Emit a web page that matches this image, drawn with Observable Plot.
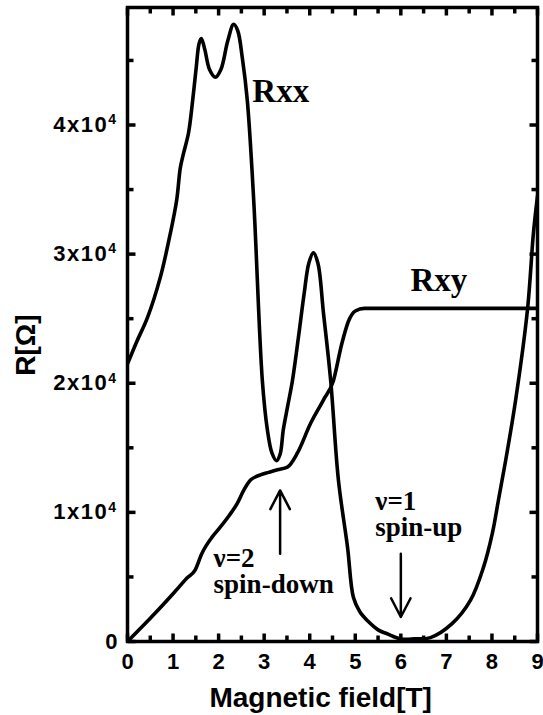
<!DOCTYPE html>
<html><head><meta charset="utf-8">
<script src="https://cdn.jsdelivr.net/npm/d3@7"></script>
<script src="https://cdn.jsdelivr.net/npm/@observablehq/plot@0.6"></script>
<style>body{margin:0;background:#fff} svg{display:block}</style>
</head><body><div id="chart"></div><script>
// Rxx: magnetic field [T] and resistance [Ω]
const rxxB = [0,0.2,0.44,0.72,0.94,1.08,1.16,1.23,1.34,1.43,1.51,1.57,1.62,1.7,1.8,1.93,2.05,2.2,2.33,2.42,2.52,2.63,2.77,2.96,3.07,3.17,3.27,3.35,3.42,3.52,3.62,3.75,3.88,3.98,4.08,4.18,4.3,4.46,4.63,4.83,4.96,5.1,5.27,5.5,5.7,6.0,6.3,6.65,7.13,7.53,7.81,8.01,8.14,8.3,8.52,8.78,8.91,9.0];
const rxxR = [21500,23200,25100,28200,31600,34200,36700,37800,39400,41900,44500,46300,46700,45800,44300,43700,44300,46500,47800,47300,45200,41900,34200,20200,16400,14600,14000,14500,16400,18300,20200,23500,27000,29300,30100,29300,25500,20200,12500,7300,3400,2300,1600,900,600,200,200,300,1400,3200,5700,8400,10900,14000,18700,25700,31600,34500];
// Rxy
const rxyB = [0,0.5,1.0,1.2,1.3,1.48,1.63,1.86,2.0,2.24,2.41,2.55,2.7,2.92,3.1,3.29,3.51,3.73,4.02,4.3,4.52,4.7,4.85,5.0,5.2,6.0,9.0];
const rxyR = [0,1800,3700,4500,4900,5500,6800,8100,8700,9800,10700,11700,12500,12900,13100,13300,13500,14600,16900,18700,20200,23000,24800,25600,25800,25800,25800];
// tick values
const xMajor = [0,1,2,3,4,5,6,7,8,9];
const xMinor = [0.5,1.5,2.5,3.5,4.5,5.5,6.5,7.5,8.5];
const yMajor = [0,10000,20000,30000,40000];
const yMinor = [5000,15000,25000,35000,45000];
// annotations
const curveLabels = [
  {B:2.74, R:42600, text:"Rxx"},
  {B:6.21, R:28000, text:"Rxy"}
];
const levelLabels = [
  {B:1.89, R:5400, text:"ν=2\nspin-down"},
  {B:5.44, R:9800, text:"ν=1\nspin-up"}
];
const arrows = [
  {B:3.35, from:6800, to:11700},
  {B:6.0, from:6800, to:1900}
];
const xTitle = [{B:4.24, R:-4340, text:"Magnetic field[T]"}];
const yTitle = [{B:-2.217, R:22950, text:"R[Ω]"}];

const rxx = rxxB.map((b,i)=>({B:b, R:rxxR[i]}));
const rxy = rxyB.map((b,i)=>({B:b, R:rxyR[i]}));

const W=543, H=715, mL=127, mR=6, mT=7, mB=74;
const xMax = 9, yMax = 49100;
const fw = W-mL-mR, fh = H-mT-mB;
const serif = "'Liberation Serif', 'Times New Roman', serif";

// inward tick segments: tick length in pixels converted to data units
const tickSegs = [];
for (const [vals, px] of [[xMajor,8],[xMinor,6]]) {
  const d = px/fh*yMax;
  for (const v of vals) {
    tickSegs.push({x1:v, x2:v, y1:0, y2:d});
    tickSegs.push({x1:v, x2:v, y1:yMax, y2:yMax-d});
  }
}
for (const [vals, px] of [[yMajor,8],[yMinor,6]]) {
  const d = px/fw*xMax;
  for (const v of vals) {
    tickSegs.push({x1:0, x2:d, y1:v, y2:v});
    tickSegs.push({x1:xMax, x2:xMax-d, y1:v, y2:v});
  }
}

const plot = Plot.plot({
  width: W, height: H,
  marginLeft: mL, marginRight: mR, marginTop: mT, marginBottom: mB,
  style: {background:"#fff", color:"#000", fontFamily:"'Liberation Sans', Arial, sans-serif", overflow:"visible"},
  x: {domain:[0,xMax]},
  y: {domain:[0,yMax]},
  marks: [
    Plot.frame({stroke:"#000", strokeWidth:3.5}),
    Plot.axisX(xMajor, {anchor:"bottom", tickSize:0, tickPadding:12, fontSize:22, fontWeight:"bold", label:null, tickFormat:d=>String(d)}),
    Plot.axisY(yMajor, {anchor:"left", tickSize:0, tickPadding:10, fontSize:22, fontWeight:"bold", label:null, tickFormat:d=> d===0 ? "0" : `${d/1e4}x10`}),
    Plot.link(tickSegs, {x1:"x1", x2:"x2", y1:"y1", y2:"y2", stroke:"#000", strokeWidth:3.5}),
    Plot.line(rxx, {x:"B", y:"R", curve:"catmull-rom", stroke:"#000", strokeWidth:3.6, clip:true}),
    Plot.line(rxy, {x:"B", y:"R", curve:"monotone-x", stroke:"#000", strokeWidth:3.6, clip:true}),
    Plot.arrow(arrows, {x1:"B", x2:"B", y1:"from", y2:"to", stroke:"#000", strokeWidth:2.5, headLength:16, headAngle:55}),
    Plot.text(curveLabels, {x:"B", y:"R", text:"text", textAnchor:"start", fontFamily:serif, fontWeight:"bold", fontSize:33, fill:"#000"}),
    Plot.text(levelLabels, {x:"B", y:"R", text:"text", textAnchor:"start", lineHeight:0.95, fontFamily:serif, fontWeight:"bold", fontSize:27, fill:"#000"}),
    Plot.text(xTitle, {x:"B", y:"R", text:"text", fontSize:28, fontWeight:"bold", fill:"#000"}),
    Plot.text(yTitle, {x:"B", y:"R", rotate:-90, text:"text", fontSize:28, fontWeight:"bold", fill:"#000"})
  ]
});
// superscript exponent on y tick labels
d3.select(plot).selectAll('g[aria-label="y-axis tick label"] text').each(function(){
  const t = d3.select(this);
  if (t.text() !== "0" && t.text() !== "") {
    t.style("letter-spacing","1.5px");
    t.append("tspan").attr("dy","-0.55em").attr("font-size","14px").text("4");
  }
});
document.getElementById("chart").appendChild(plot);
</script></body></html>
